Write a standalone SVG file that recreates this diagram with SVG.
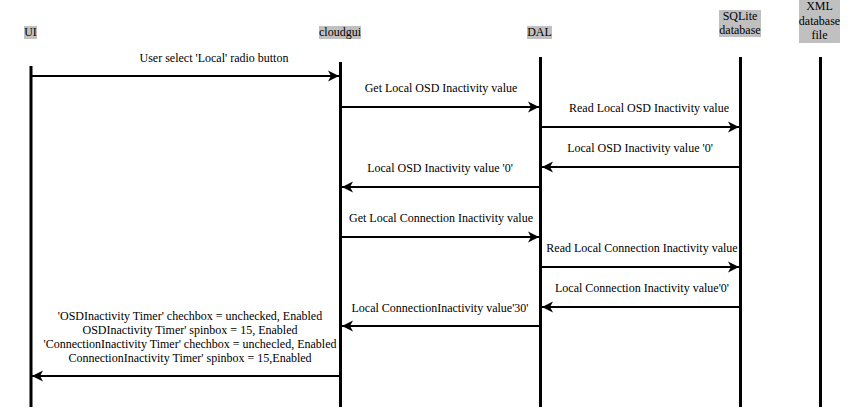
<svg xmlns="http://www.w3.org/2000/svg" width="851" height="409" viewBox="0 0 851 409">
<defs>
<marker id="ah" markerUnits="userSpaceOnUse" markerWidth="12" markerHeight="12" refX="11" refY="6" orient="auto" overflow="visible">
<path d="M11,6 L0,0.5 L3,6 L0,11.5 Z" fill="#000"/>
</marker>
<style>
text{font-family:"Liberation Serif","Times New Roman",serif;font-size:12px;fill:#000}
.c{text-anchor:middle}
.hb{fill:#c0c0c0}
.life{stroke:#000;stroke-width:3;fill:none}
.msg{stroke:#000;stroke-width:2;fill:none;marker-end:url(#ah)}
</style>
</defs>
<rect width="851" height="409" fill="#fff"/>
<g id="node-ui">
<rect class="hb" x="24" y="26" width="13" height="13"/>
<text class="c" x="30.5" y="36">UI</text>
<line class="life" x1="31" y1="66" x2="31" y2="407"/>
</g>
<g id="node-cloudgui">
<rect class="hb" x="319" y="26" width="42" height="13"/>
<text class="c" x="340" y="36">cloudgui</text>
<line class="life" x1="340.5" y1="62" x2="340.5" y2="407"/>
</g>
<g id="node-dal">
<rect class="hb" x="527" y="26" width="25" height="13"/>
<text class="c" x="539.5" y="36">DAL</text>
<line class="life" x1="540.5" y1="57" x2="540.5" y2="407"/>
</g>
<g id="node-sqlite">
<rect class="hb" x="719" y="10" width="42" height="27"/>
<text class="c" x="740" y="20">SQLite</text>
<text class="c" x="740" y="34">database</text>
<line class="life" x1="740.5" y1="57" x2="740.5" y2="407"/>
</g>
<g id="node-xml">
<rect class="hb" x="799" y="0" width="41" height="43"/>
<text class="c" x="819.5" y="10">XML</text>
<text class="c" x="819.5" y="25">database</text>
<text class="c" x="819.5" y="39">file</text>
<line class="life" x1="820.5" y1="57" x2="820.5" y2="407"/>
</g>
<g id="connectors">
<line class="msg" x1="32" y1="76" x2="339" y2="76"/>
<text class="c" x="214" y="62">User select 'Local' radio button</text>
<line class="msg" x1="342" y1="107" x2="539" y2="107"/>
<text class="c" x="441" y="92">Get Local OSD Inactivity value</text>
<line class="msg" x1="542" y1="127" x2="739" y2="127"/>
<text class="c" x="649" y="112">Read Local OSD Inactivity value</text>
<line class="msg" x1="739" y1="167" x2="542" y2="167"/>
<text class="c" x="640" y="152">Local OSD Inactivity value '0'</text>
<line class="msg" x1="539" y1="187" x2="342" y2="187"/>
<text class="c" x="440" y="172">Local OSD Inactivity value '0'</text>
<line class="msg" x1="342" y1="237" x2="539" y2="237"/>
<text class="c" x="441" y="222">Get Local Connection Inactivity value</text>
<line class="msg" x1="542" y1="267" x2="739" y2="267"/>
<text class="c" x="642" y="252">Read Local Connection Inactivity value</text>
<line class="msg" x1="739" y1="307" x2="542" y2="307"/>
<text class="c" x="642" y="292">Local Connection Inactivity value'0'</text>
<line class="msg" x1="539" y1="326" x2="342" y2="326"/>
<text class="c" x="440" y="312">Local ConnectionInactivity value'30'</text>
<line class="msg" x1="339" y1="376" x2="32" y2="376"/>
<text class="c" x="190" y="320">'OSDInactivity Timer' chechbox = unchecked, Enabled</text>
<text class="c" x="190" y="334">OSDInactivity Timer' spinbox = 15, Enabled</text>
<text class="c" x="190" y="348">'ConnectionInactivity Timer' chechbox = unchecled, Enabled</text>
<text class="c" x="190" y="362">ConnectionInactivity Timer' spinbox = 15,Enabled</text>
</g>
</svg>
